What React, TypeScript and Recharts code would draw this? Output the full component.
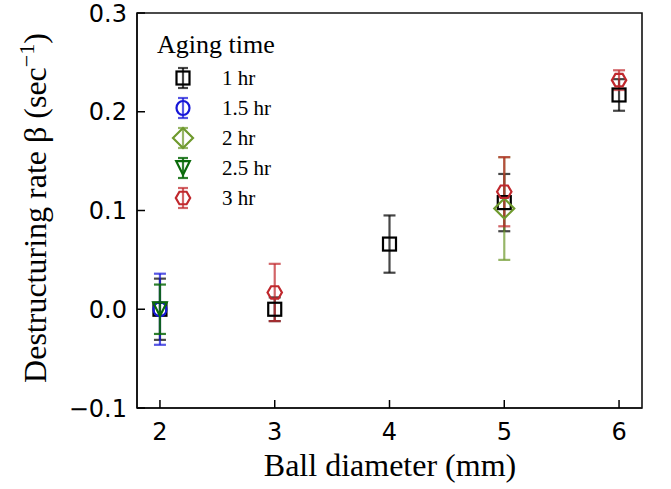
import React from 'react';
import { ScatterChart, Scatter, XAxis, YAxis, ErrorBar, ReferenceArea } from 'recharts';

const xTicks = [2, 3, 4, 5, 6];
const yTicks = [-0.1, 0, 0.1, 0.2, 0.3];

const seriesNames = ['1 hr', '1.5 hr', '2 hr', '2.5 hr', '3 hr'];
const seriesColors = ['#000000', '#1616d8', '#6f9a2e', '#0a6a0a', '#c0282d'];
const errColors = ['rgba(0,0,0,0.72)', 'rgba(22,22,216,0.72)', 'rgba(111,154,46,0.72)', 'rgba(10,106,10,0.85)', 'rgba(192,40,45,0.72)'];
const seriesShapes = ['square', 'circle', 'diamond', 'triangleDown', 'hexagon'];

const x1hr = [2, 3, 4, 5, 6];
const y1hr = [0, 0, 0.066, 0.108, 0.217];
const e1hr = [0.031, 0.012, 0.029, 0.029, 0.016];

const x15hr = [2];
const y15hr = [0];
const e15hr = [0.036];

const x2hr = [5];
const y2hr = [0.102];
const e2hr = [0.052];

const x25hr = [2];
const y25hr = [0];
const e25hr = [0.025];

const x3hr = [3, 5, 6];
const y3hr = [0.017, 0.119, 0.232];
const e3hr = [0.029, 0.035, 0.010];

const build = (xs: number[], ys: number[], es: number[]) =>
  xs.map((x, i) => ({ x, y: ys[i], err: es[i] }));

const seriesData = [
  build(x1hr, y1hr, e1hr),
  build(x15hr, y15hr, e15hr),
  build(x2hr, y2hr, e2hr),
  build(x25hr, y25hr, e25hr),
  build(x3hr, y3hr, e3hr),
];

function markerPath(shape: string, cx: number, cy: number, color: string) {
  const sw = 2.2;
  switch (shape) {
    case 'square':
      return <rect x={cx - 6.5} y={cy - 6.5} width={13} height={13} fill="none" stroke={color} strokeWidth={sw} />;
    case 'circle':
      return <ellipse cx={cx} cy={cy} rx={6.5} ry={7} fill="none" stroke={color} strokeWidth={sw} />;
    case 'diamond': {
      const r = 10;
      return <path d={`M${cx},${cy - r}L${cx + r},${cy}L${cx},${cy + r}L${cx - r},${cy}Z`} fill="none" stroke={color} strokeWidth={sw} />;
    }
    case 'triangleDown': {
      const r = 6.8;
      return <path d={`M${cx - r},${cy - r}L${cx + r},${cy - r}L${cx},${cy + r}Z`} fill="none" stroke={color} strokeWidth={sw} />;
    }
    case 'hexagon': {
      const r = 7.2;
      const pts: string[] = [];
      for (let k = 0; k < 6; k++) {
        const a = (Math.PI / 3) * k;
        pts.push(`${cx + r * Math.cos(a)},${cy + r * Math.sin(a)}`);
      }
      return <polygon points={pts.join(' ')} fill="none" stroke={color} strokeWidth={sw} />;
    }
  }
  return null;
}

const makeShape = (shape: string, color: string) => (props: any) => {
  const { cx, cy } = props;
  if (cx == null || cy == null) return <g />;
  return <g>{markerPath(shape, cx, cy, color)}</g>;
};

const fmt = (v: number) => (v < 0 ? '\u2212' + Math.abs(v).toFixed(1) : v.toFixed(1));

const XTick = (props: any) => {
  const { x, y, payload } = props;
  return (
    <g>
      <line x1={x} y1={y} x2={x} y2={y - 8} stroke="#000" strokeWidth={1.5} />
      <text x={x} y={y + 32} textAnchor="middle" fontFamily="DejaVu Sans" fontSize={24} fill="#000">
        {payload.value}
      </text>
    </g>
  );
};

const YTick = (props: any) => {
  const { x, y, payload } = props;
  return (
    <g>
      <line x1={x} y1={y} x2={x + 8} y2={y} stroke="#000" strokeWidth={1.5} />
      <text x={x - 10} y={y + 8.5} textAnchor="end" fontFamily="DejaVu Sans" fontSize={24} fill="#000">
        {fmt(payload.value)}
      </text>
    </g>
  );
};

const legendTop = 78;
const legendStep = 30;

export default function App() {
  return (
    <div style={{ position: 'absolute', left: 0, top: 0, width: 671, height: 489, background: '#fff' }}>
      <ScatterChart width={671} height={489} margin={{ top: 13, right: 29, bottom: 0, left: 0 }}>
        <XAxis
          type="number"
          dataKey="x"
          domain={[1.8, 6.2]}
          ticks={xTicks}
          allowDataOverflow
          height={81}
          tickSize={0}
          tickMargin={0}
          tickLine={false}
          axisLine={{ stroke: '#111', strokeWidth: 1.6 }}
          tick={<XTick />}
          interval={0}
          label={{
            content: () => (
              <text x={390} y={476} textAnchor="middle" fontFamily="Liberation Serif" fontSize={32} fill="#000">
                Ball diameter (mm)
              </text>
            ),
          }}
        />
        <YAxis
          type="number"
          dataKey="y"
          domain={[-0.1, 0.3]}
          ticks={yTicks}
          allowDataOverflow
          width={137}
          tickSize={0}
          tickMargin={0}
          tickLine={false}
          axisLine={{ stroke: '#111', strokeWidth: 1.6 }}
          tick={<YTick />}
          interval={0}
          label={{
            content: () => (
              <text
                x={0}
                y={0}
                transform="translate(46,208) rotate(-90)"
                textAnchor="middle"
                fontFamily="Liberation Serif"
                fontSize={32}
                fill="#000"
              >
                Destructuring rate β (sec
                <tspan fontSize={22} dy={-12}>{'\u22121'}</tspan>
                <tspan dy={12}>)</tspan>
              </text>
            ),
          }}
        />
        <ReferenceArea x1={1.8} x2={6.2} y1={-0.1} y2={0.3} fill="none" fillOpacity={0} stroke="#111" strokeWidth={1.6} ifOverflow="visible" />
        {seriesData.map((d, i) => (
          <Scatter
            key={seriesNames[i]}
            name={seriesNames[i]}
            data={d}
            isAnimationActive={false}
            shape={makeShape(seriesShapes[i], seriesColors[i])}
          >
            <ErrorBar dataKey="err" direction="y" width={6} stroke={errColors[i]} strokeWidth={2.2} />
          </Scatter>
        ))}
      </ScatterChart>
      <svg width={671} height={489} style={{ position: 'absolute', left: 0, top: 0, pointerEvents: 'none' }}>
        <text x={157} y={53} fontFamily="Liberation Serif" fontSize={26} fill="#000">
          Aging time
        </text>
        {seriesNames.map((n, i) => {
          const cy = legendTop + i * legendStep;
          const cx = 183;
          return (
            <g key={n}>
              <line x1={cx} y1={cy - 10} x2={cx} y2={cy + 10} stroke={errColors[i]} strokeWidth={2.2} />
              <line x1={cx - 5} y1={cy - 10} x2={cx + 5} y2={cy - 10} stroke={errColors[i]} strokeWidth={2.2} />
              <line x1={cx - 5} y1={cy + 10} x2={cx + 5} y2={cy + 10} stroke={errColors[i]} strokeWidth={2.2} />
              {markerPath(seriesShapes[i], cx, cy, seriesColors[i])}
              <text x={222} y={cy + 7} fontFamily="Liberation Serif" fontSize={21} fill="#000">
                {n}
              </text>
            </g>
          );
        })}
      </svg>
    </div>
  );
}
